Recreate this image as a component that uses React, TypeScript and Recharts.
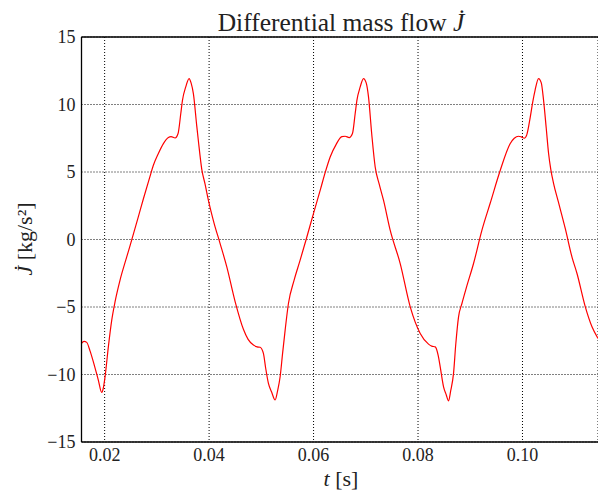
import { LineChart, Line, XAxis, YAxis, CartesianGrid, ReferenceLine } from 'recharts'

// time [s] and differential mass flow [kg/s^2]
const timeS = [
  0.01557, 0.01605, 0.01657, 0.0172, 0.01784, 0.01879, 0.01944, 0.01975, 0.02008, 0.02071,
  0.02136, 0.02199, 0.02295, 0.02423, 0.02487, 0.02646, 0.02741, 0.0287, 0.02933, 0.03029,
  0.03125, 0.0322, 0.03272, 0.03349, 0.03406, 0.03458, 0.0349, 0.03553, 0.03617, 0.03655,
  0.03699, 0.03764, 0.03795, 0.0386, 0.03923, 0.03987, 0.04096, 0.04211, 0.04339, 0.04498,
  0.04657, 0.04747, 0.04849, 0.0492, 0.04977, 0.0504, 0.05082, 0.05136, 0.05197, 0.05264,
  0.05312, 0.0536, 0.05408, 0.05456, 0.05519, 0.05628, 0.05743, 0.05858, 0.05998, 0.06136,
  0.06222, 0.06318, 0.06433, 0.06542, 0.06605, 0.06682, 0.06745, 0.06797, 0.0683, 0.06893,
  0.06956, 0.07008, 0.07052, 0.07113, 0.0718, 0.07257, 0.07339, 0.07467, 0.07659, 0.07851,
  0.08042, 0.08201, 0.08262, 0.0833, 0.08387, 0.08425, 0.08489, 0.0854, 0.08584, 0.08626,
  0.0868, 0.08722, 0.08776, 0.08841, 0.08923, 0.09063, 0.09224, 0.09383, 0.09575, 0.09766,
  0.09843, 0.09925, 0.09977, 0.10034, 0.10082, 0.10149, 0.10197, 0.10241, 0.10308, 0.1036,
  0.10404, 0.10456, 0.105, 0.10542, 0.10596, 0.10686, 0.1082, 0.10948, 0.11044, 0.11203,
  0.11331, 0.11446,
]
const jdot = [
  -7.7, -7.55, -7.62, -8.25, -9.06, -10.41, -11.33, -11.0, -10.17, -7.95,
  -5.97, -4.62, -3.01, -1.29, -0.45, 1.7, 3.0, 4.7, 5.5, 6.37,
  7.1, 7.55, 7.62, 7.52, 7.85, 9.33, 10.31, 11.3, 11.92, 11.6,
  10.8, 8.4, 7.3, 5.2, 4.1, 2.9, 1.2, -0.3, -2.03, -4.6,
  -6.65, -7.4, -7.82, -7.95, -7.98, -8.44, -9.5, -10.66, -11.3, -11.89,
  -11.2, -10.17, -8.4, -6.71, -4.74, -3.01, -1.53, 0.0, 1.92, 3.77,
  4.95, 6.11, 7.05, 7.62, 7.65, 7.55, 7.85, 9.33, 10.31, 11.3,
  11.92, 11.6, 10.56, 7.85, 5.37, 4.1, 2.91, 0.69, -1.78, -4.99,
  -6.96, -7.75, -7.9, -7.95, -8.6, -9.43, -10.91, -11.5, -11.95, -11.2,
  -9.92, -7.8, -5.73, -4.74, -3.6, -1.78, 0.69, 2.7, 5.13, 7.11,
  7.5, 7.65, 7.6, 7.5, 7.75, 9.07, 10.2, 11.05, 11.92, 11.6,
  10.31, 8.2, 6.37, 5.2, 4.14, 2.8, 0.8, -1.3, -2.52, -4.99,
  -6.47, -7.33,
]

const xTicks = [0.02, 0.04, 0.06, 0.08, 0.1]
const yTicks = [-15, -10, -5, 0, 5, 10, 15]

const data = timeS.map((t, i) => ({ t, j: jdot[i] }))

const font = '"Liberation Serif", "DejaVu Serif", serif'
const tickStyle = { fill: '#222', fontSize: 18, fontFamily: font }

export default function App() {
  return (
    <div style={{ position: 'absolute', left: 0, top: 0, width: 598, height: 498, background: '#fff' }}>
      <LineChart width={598} height={498} data={data} margin={{ top: 37, right: 0, bottom: 0, left: 0 }}>
        <CartesianGrid stroke="#000" strokeDasharray="1 2" strokeWidth={1} />
        <XAxis
          type="number"
          dataKey="t"
          domain={[0.01557, 0.11446]}
          allowDataOverflow
          ticks={xTicks}
          tickFormatter={(v) => v.toFixed(2)}
          tick={tickStyle}
          tickLine={false}
          tickMargin={0}
          height={56}
          axisLine={{ stroke: '#000', strokeWidth: 1.3 }}
        />
        <YAxis
          type="number"
          domain={[-15, 15]}
          ticks={yTicks}
          tickFormatter={(v) => (v < 0 ? '\u2212' + Math.abs(v) : String(v))}
          tick={tickStyle}
          tickLine={false}
          tickMargin={0}
          width={81.5}
          axisLine={{ stroke: '#000', strokeWidth: 1.3 }}
        />
        <ReferenceLine y={15} stroke="#000" strokeWidth={1.3} />
        <Line
          type="monotone"
          dataKey="j"
          stroke="#ff0000"
          strokeWidth={1.2}
          dot={false}
          isAnimationActive={false}
        />
      </LineChart>
      <svg
        width={598}
        height={498}
        style={{ position: 'absolute', left: 0, top: 0, pointerEvents: 'none' }}
      >
        <text x={341} y={31} textAnchor="middle" fontSize={25.5} fontFamily={font} fill="#222">
          Differential mass flow <tspan fontStyle="italic">{'J\u0307'}</tspan>
        </text>
        <text x={341} y={486} textAnchor="middle" fontSize={22} fontFamily={font} fill="#222">
          <tspan fontStyle="italic">t</tspan> [s]
        </text>
        <text
          x={0}
          y={0}
          transform="translate(32,239) rotate(-90)"
          textAnchor="middle"
          fontSize={22}
          fontFamily={font}
          fill="#222"
        >
          <tspan fontStyle="italic">{'J\u0307'}</tspan> [kg/s²]
        </text>
      </svg>
    </div>
  )
}
